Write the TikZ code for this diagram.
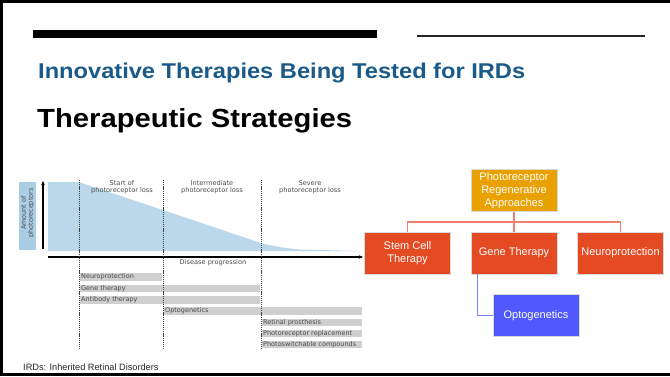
\documentclass[tikz,border=0pt]{standalone}
\usepackage{fontspec}
\setmainfont{Liberation Sans}
\newfontfamily\chartfont{DejaVu Sans}
\usetikzlibrary{arrows.meta}
\definecolor{titleblue}{HTML}{1A5A8A}
\definecolor{areablue}{HTML}{BBD8EB}
\definecolor{labelblue}{HTML}{A8CDE5}
\definecolor{bargray}{HTML}{CFCFCF}
\definecolor{charttext}{HTML}{4A4A4A}
\definecolor{goldbox}{HTML}{E9A102}
\definecolor{redbox}{HTML}{E44B23}
\definecolor{bluebox}{HTML}{4F59FE}
\definecolor{redline}{HTML}{EF7F6E}
\definecolor{blueline}{HTML}{7D80FF}
\tikzset{
  frameline/.style={line width=2.6pt, black},
  stagetext/.style={font=\chartfont\fontsize{6.6}{7}\selectfont, text=charttext, align=center, inner sep=0pt},
  bartext/.style={font=\chartfont\fontsize{6.5}{7}\selectfont, text=charttext, anchor=west, inner sep=0pt},
  graybar/.style={fill=bargray, draw=none},
  stageline/.style={draw=black!75, line width=0.6pt, dash pattern=on 1.2pt off 0.9pt},
  axisarrow/.style={draw=black, line width=1.1pt, -{Stealth[length=4pt,width=3.5pt]}},
  orgbox/.style={draw=white!85!black, line width=0.5pt, minimum width=86pt, minimum height=42pt, text=white, align=center, font=\fontsize{11}{13}\selectfont, inner sep=1pt},
  redconn/.style={draw=redline, line width=1.3pt},
  blueconn/.style={draw=blueline, line width=1.3pt}
}
\begin{document}
\begin{tikzpicture}[x=1pt,y=-1pt]
\useasboundingbox (0,0) rectangle (670,376);
% frame
\draw[frameline] (0,1.3) -- (670,1.3);
\draw[frameline] (1.3,0) -- (1.3,376);
\draw[frameline] (0,374.7) -- (670,374.7);
% header bars
\fill[black] (33,30) rectangle (377,38);
\fill[black!85] (417,35) rectangle (645,37);
% titles
\node[anchor=base west, inner sep=0pt, text=titleblue, font=\bfseries] (title) at (38,78) {\resizebox{487pt}{15.5pt}{Innovative Therapies Being Tested for IRDs}};
\node[anchor=base west, inner sep=0pt, text=black, font=\bfseries] (subtitle) at (37,127) {\resizebox{315pt}{19pt}{Therapeutic Strategies}};
% chart area
\fill[areablue] (48,182) -- (79,182) -- (163,210) -- (255,241) .. controls (268,246) and (285,248) .. (300,249.5) -- (360,251) -- (48,251) -- cycle;
\fill[labelblue] (19,182) rectangle (36,250);
\node[rotate=90, font=\chartfont\fontsize{6.4}{7}\selectfont, text=charttext, align=center, inner sep=0pt] (ylabel) at (27.5,213) {Amount of\\photoreceptors};
\coordinate (yfoot) at (43,249);
\coordinate (ytop) at (43,181);
\draw[axisarrow] (yfoot) -- (ytop);
\coordinate (xstart) at (48,257);
\coordinate (xend) at (363,257);
\draw[axisarrow] (xstart) -- (xend);
\node[stagetext, anchor=north] (xlabel) at (213,259.5) {Disease progression};
% stage labels
\node[stagetext] (s1) at (122,187.5) {Start of\\photoreceptor loss};
\node[stagetext] (s2) at (212,187.5) {Intermediate\\photoreceptor loss};
\node[stagetext] (s3) at (310,187.5) {Severe\\photoreceptor loss};
% bars
\fill[graybar] (80,273) rectangle (162,280.5);
\fill[graybar] (80,284.5) rectangle (260,292);
\fill[graybar] (80,296) rectangle (260,303.5);
\fill[graybar] (164,307) rectangle (362,314.5);
\fill[graybar] (262,318.5) rectangle (362,326);
\fill[graybar] (262,329.5) rectangle (362,337);
\fill[graybar] (262,340.5) rectangle (362,348);
\node[bartext] (b1) at (81,276.8) {Neuroprotection};
\node[bartext] (b2) at (81,288.2) {Gene therapy};
\node[bartext] (b3) at (81,299.7) {Antibody therapy};
\node[bartext] (b4) at (165,310.8) {Optogenetics};
\node[bartext] (b5) at (263,322.2) {Retinal prosthesis};
\node[bartext] (b6) at (263,333.2) {Photoreceptor replacement};
\node[bartext] (b7) at (263,344.2) {Photoswitchable compounds};
% stage lines
\draw[stageline] (79,180) -- (79,349);
\draw[stageline] (163,180) -- (163,349);
\draw[stageline] (261,180) -- (261,349);
% footnote
\node[anchor=base west, inner sep=0pt, font=\fontsize{9.2}{10}\selectfont, text=black!85] (foot) at (23,370) {IRDs: Inherited Retinal Disorders};
% org chart
\node[orgbox, fill=goldbox] (top) at (514,190.5) {Photoreceptor\\Regenerative\\Approaches};
\node[orgbox, fill=redbox] (stem) at (407.5,253) {Stem Cell\\Therapy};
\node[orgbox, fill=redbox] (gene) at (514,253) {Gene Therapy};
\node[orgbox, fill=redbox] (neuro) at (620.5,253) {Neuroprotection};
\node[orgbox, fill=bluebox] (opto) at (536,315.5) {Optogenetics};
\coordinate (bus) at (514,222);
\draw[redconn] (top.south) -- (gene.north);
\draw[redconn] (stem.north) -- (stem.north |- bus) -- (neuro.north |- bus) -- (neuro.north);
\coordinate (gs) at ([xshift=7pt]gene.south west);
\draw[blueconn] (gs) |- (opto.west);
\end{tikzpicture}
\end{document}
